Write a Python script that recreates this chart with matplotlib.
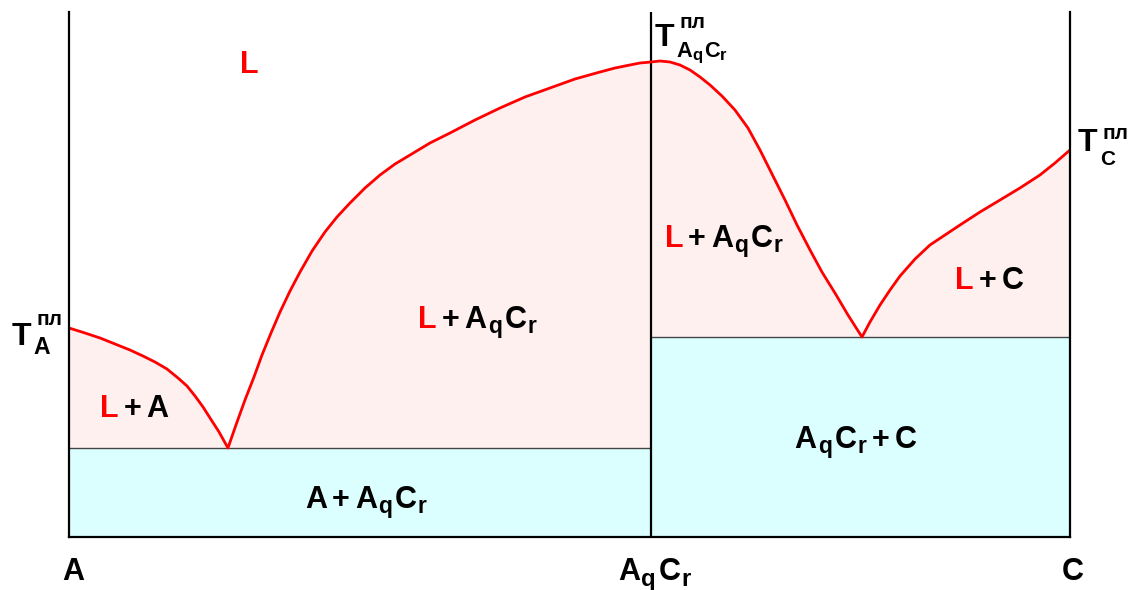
import matplotlib
matplotlib.use("Agg")
import matplotlib.pyplot as plt

plt.rcParams['font.family'] = ['Liberation Sans', 'DejaVu Sans']
plt.rcParams['font.weight'] = 'bold'

# composition axis: A = 0, compound AqCr, C = 100 ; temperature in arbitrary units
x_compound = 58.14
t_eut1 = 89      # eutectic A + AqCr
t_eut2 = 200     # eutectic AqCr + C

# liquidus branches (composition, temperature)
liq1_x = [0, 1.60, 3.10, 4.60, 6.09, 7.39, 8.59, 9.79, 10.89, 11.79, 12.59,
          13.39, 14.09, 14.99, 15.88]
liq1_t = [209, 204, 199, 193, 187, 181, 175, 168, 159, 151, 141,
          130, 119, 105, t_eut1]

liq2_x = [15.88, 16.68, 17.58, 18.48, 19.28, 20.18, 21.08, 22.08, 23.08, 24.28,
          25.57, 26.77, 28.07, 29.57, 31.07, 32.57, 34.07, 36.06, 38.06, 40.56,
          43.06, 45.55, 48.05, 50.55, 53.05, 54.55, 56.04, 57.04, x_compound]
liq2_t = [t_eut1, 112, 137, 160, 182, 204, 225, 246, 265, 286,
          305, 320, 334, 349, 362, 373, 382, 394, 404, 417,
          429, 440, 449, 458, 465, 469, 472, 474, 475]

liq3_x = [x_compound, 59.04, 60.04, 61.04, 62.04, 63.04, 64.04, 65.23, 66.53,
          67.83, 69.03, 70.23, 71.53, 72.73, 74.03, 75.22, 76.52, 77.82, 79.22]
liq3_t = [475, 476, 475, 472, 467, 460, 452, 441, 427,
          409, 387, 363, 337, 312, 287, 265, 244, 222, t_eut2]

liq4_x = [79.22, 80.02, 81.02, 82.02, 83.02, 84.52, 86.01, 87.51, 89.01,
          91.01, 93.01, 95.0, 97.0, 98.5, 100]
liq4_t = [t_eut2, 215, 232, 247, 261, 278, 292, 302, 312,
          325, 337, 349, 362, 374, 387]

RED = '#FF0000'
PINK = '#FFF0F0'
CYAN = '#DBFFFF'

fig = plt.figure(figsize=(11.35, 5.9), dpi=100)
ax = fig.add_axes([69 / 1135, 53 / 590, 1001 / 1135, 525 / 590])
ax.set_xlim(0, 100)
ax.set_ylim(0, 525)
ax.set_xticks([])
ax.set_yticks([])
ax.spines['top'].set_visible(False)
for s in ('left', 'right', 'bottom'):
    ax.spines[s].set_linewidth(1.6)
    ax.spines[s].set_zorder(5)

# solid regions
ax.fill_between([0, x_compound], 0, t_eut1, color=CYAN, lw=0)
ax.fill_between([x_compound, 100], 0, t_eut2, color=CYAN, lw=0)

# two-phase regions under the liquidus
for xs, ts, base in ((liq1_x, liq1_t, t_eut1), (liq2_x, liq2_t, t_eut1),
                     (liq3_x, liq3_t, t_eut2), (liq4_x, liq4_t, t_eut2)):
    ax.fill_between(xs, base, ts, color=PINK, lw=0)

ax.hlines(t_eut1, 0, x_compound, color='#444444', lw=1.0)
ax.hlines(t_eut2, x_compound, 100, color='#444444', lw=1.0)
ax.axvline(x_compound, color='black', lw=1.6, ymax=1)

ax.plot(liq1_x + liq2_x[1:] + liq3_x[1:] + liq4_x[1:],
        liq1_t + liq2_t[1:] + liq3_t[1:] + liq4_t[1:],
        color=RED, lw=2.0, solid_joinstyle='round')

renderer = fig.canvas.get_renderer()


def runs(x, y, parts, size=22):
    # parts: (text, color, size scale, vertical offset px, gap before px)
    dx = 0
    for s, color, scale, dy, gap in parts:
        dx += gap
        t = ax.annotate(s, (x, y), xytext=(dx, dy), textcoords='offset pixels',
                        fontsize=size * scale, color=color, fontweight='bold',
                        ha='left', va='baseline', annotation_clip=False)
        dx += t.get_window_extent(renderer).width
    return dx


def aqcr(color='black', gap=5, sub=0.75, dy=-5):
    return [('A', color, 1, 0, gap), ('q', color, sub, dy, 1),
            ('C', color, 1, 0, 3), ('r', color, sub, dy, 1)]


def plus(gap=5):
    return [('+', 'black', 1, 0, gap)]


L = [('L', RED, 1, 0, 0)]

# phase fields
runs(17.1, 464, L)
runs(3.1, 120, L + plus() + [('A', 'black', 1, 0, 5)])
runs(34.9, 209, L + plus() + aqcr())
runs(23.6, 29, [('A', 'black', 1, 0, 0)] + plus() + aqcr())
runs(59.5, 290, L + plus() + aqcr())
runs(88.5, 248, L + plus() + [('C', 'black', 1, 0, 5)])
runs(72.5, 89, aqcr(gap=0) + plus() + [('C', 'black', 1, 0, 5)])

# composition labels under the axis
runs(-0.7, -43, [('A', 'black', 1, 0, 0)], size=22)
runs(54.85, -43, aqcr(gap=0, sub=0.78, dy=-6), size=22)
runs(99.2, -43, [('C', 'black', 1, 0, 0)], size=22)


def melt_label(x, y, sub_parts, sup_dy, sub_dy, size=23):
    w = runs(x, y, [('T', 'black', 1, 0, 0)], size=size)
    ax.annotate('пл', (x, y), xytext=(w + 5, sup_dy), textcoords='offset pixels',
                fontsize=15, fontweight='bold', ha='left', va='baseline',
                annotation_clip=False)
    dx = w + 2
    for s, scale, dy, gap in sub_parts:
        dx += gap
        t = ax.annotate(s, (x, y), xytext=(dx, sub_dy + dy), textcoords='offset pixels',
                        fontsize=size * scale, fontweight='bold', ha='left',
                        va='baseline', annotation_clip=False)
        dx += t.get_window_extent(renderer).width


melt_label(-5.7, 192, [('A', 0.72, 0, 0)], 20, -9)
melt_label(58.5, 491, [('A', 0.68, 0, 0), ('q', 0.52, -3, 0),
                       ('C', 0.68, 0, 2), ('r', 0.52, -3, 0)], 18, -11)
melt_label(100.8, 386, [('C', 0.65, 0, 0)], 12, -14)

fig.savefig('out.png', dpi=100)
